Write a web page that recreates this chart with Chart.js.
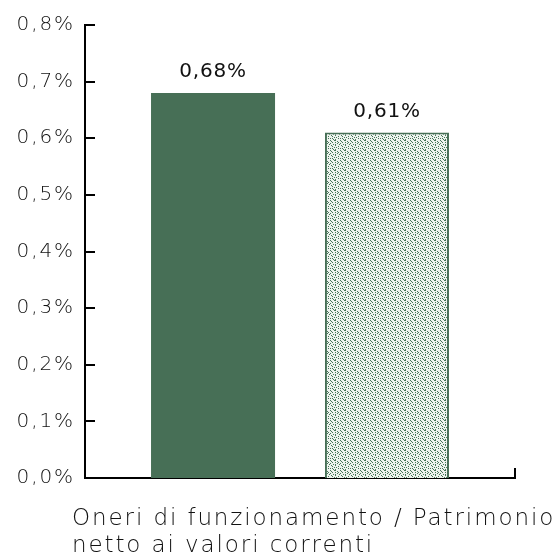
<!DOCTYPE html>
<html>
<head>
<meta charset="utf-8">
<script src="https://cdn.jsdelivr.net/npm/chart.js@4.4.1/dist/chart.umd.min.js"></script>
<style>
  html, body { margin: 0; padding: 0; background: #fff; }
  #wrap { position: relative; width: 559px; height: 560px; }
  #caption {
    position: absolute; left: 72px; top: 504px;
    font-family: "DejaVu Sans", sans-serif; font-weight: 300;
    font-size: 23px; line-height: 27px; letter-spacing: 1.9px; color: #111;
    white-space: nowrap;
  }
</style>
</head>
<body>
<div id="wrap">
  <canvas id="chart" width="559" height="560"></canvas>
  <div id="caption">Oneri di funzionamento / Patrimonio<br>netto ai valori correnti</div>
</div>
<script>
// values in percent
const categories = ["Oneri di funzionamento / Patrimonio netto ai valori correnti"];
const solidValues = [0.68];
const patternValues = [0.61];
const yTicks = [0, 0.1, 0.2, 0.3, 0.4, 0.5, 0.6, 0.7, 0.8];

const green = "#476f56";

function fmt(v, digits) {
  return v.toFixed(digits).replace(".", ",") + "%";
}

// dithered tile for the second bar
function makePattern() {
  const rows = [
    "X...XX....",
    ".X.....X..",
    "..X..X..X.",
    "X......X..",
    "...X.X...X",
    ".X...X....",
    "..X.....X.",
    "....X.X...",
    "X.X.....X.",
    "...X.X....",
  ];
  const c = document.createElement("canvas");
  c.width = 10; c.height = 10;
  const g = c.getContext("2d");
  g.fillStyle = "#eef3ee";
  g.fillRect(0, 0, 10, 10);
  g.fillStyle = "#457658";
  rows.forEach((r, y) => {
    for (let x = 0; x < r.length; x++) if (r[x] === "X") g.fillRect(x, y, 1, 1);
  });
  return document.getElementById("chart").getContext("2d").createPattern(c, "repeat");
}

// wider tracking for the axis text
const tracking = {
  id: "tracking",
  beforeDraw(chart) { chart.ctx.letterSpacing = "1.9px"; },
  afterDraw(chart) { chart.ctx.letterSpacing = "0px"; }
};

// inward ticks on the y axis, end tick on the x axis, value labels
const decorations = {
  id: "decorations",
  afterDraw(chart) {
    const ctx = chart.ctx;
    const y = chart.scales.y;
    const area = chart.chartArea;
    ctx.save();
    ctx.strokeStyle = "#000";
    ctx.lineWidth = 2;
    ctx.beginPath();
    yTicks.forEach(t => {
      if (t === 0) return;
      const py = Math.round(y.getPixelForValue(t));
      ctx.moveTo(area.left, py);
      ctx.lineTo(area.left + 10, py);
    });
    ctx.moveTo(area.right, area.bottom + 1);
    ctx.lineTo(area.right, area.bottom - 10);
    ctx.stroke();

    ctx.fillStyle = "#111";
    ctx.font = "20px 'DejaVu Sans', sans-serif";
    ctx.letterSpacing = "0.8px";
    ctx.textAlign = "center";
    ctx.textBaseline = "alphabetic";
    chart.data.datasets.forEach((ds, i) => {
      chart.getDatasetMeta(i).data.forEach((bar, j) => {
        ctx.fillText(fmt(ds.data[j], 2), bar.x, bar.y - 16);
      });
    });
    ctx.restore();
  }
};

new Chart(document.getElementById("chart"), {
  type: "bar",
  data: {
    labels: categories,
    datasets: [
      {
        data: solidValues,
        backgroundColor: green,
        borderWidth: 0,
        barPercentage: 0.713,
        categoryPercentage: 0.809
      },
      {
        data: patternValues,
        backgroundColor: makePattern(),
        borderColor: green,
        borderWidth: 2,
        barPercentage: 0.713,
        categoryPercentage: 0.809
      }
    ]
  },
  options: {
    responsive: false,
    animation: false,
    layout: { padding: { top: 25, right: 44, bottom: 0, left: 0 } },
    plugins: { legend: { display: false }, tooltip: { enabled: false } },
    scales: {
      x: {
        grid: { display: false },
        border: { color: "#000", width: 2 },
        ticks: { display: false },
        afterFit(scale) { scale.height = 82; }
      },
      y: {
        min: 0,
        max: 0.8,
        afterBuildTicks(scale) { scale.ticks = yTicks.map(v => ({ value: v })); },
        grid: { display: false, drawTicks: false },
        border: { color: "#000", width: 2 },
        ticks: {
          padding: 10,
          color: "#111",
          font: { family: "'DejaVu Sans', sans-serif", size: 20, weight: "300" },
          callback: v => fmt(v, 1)
        },
        afterFit(scale) { scale.width = 85; }
      }
    }
  },
  plugins: [tracking, decorations]
});
</script>
</body>
</html>
